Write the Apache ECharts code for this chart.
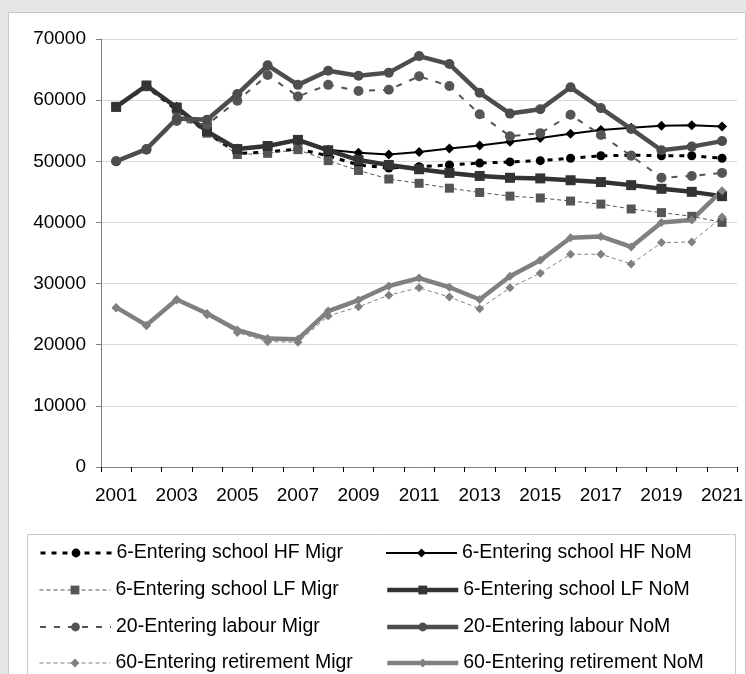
<!DOCTYPE html>
<html>
<head>
<meta charset="utf-8">
<script src="https://cdn.jsdelivr.net/npm/echarts@6/dist/echarts.min.js"></script>
<style>
html,body{margin:0;padding:0;background:#e6e6e6;}
#c{width:746px;height:674px;}
</style>
</head>
<body>
<div id="c"></div>
<script>
const years = ['2001','2002','2003','2004','2005','2006','2007','2008','2009','2010','2011','2012','2013','2014','2015','2016','2017','2018','2019','2020','2021'];
const yTicks = [0,10000,20000,30000,40000,50000,60000,70000];

const hfMigr   = [58900,62200,58400,54700,51300,51500,52000,50900,49400,48900,49100,49400,49700,49900,50100,50500,50900,51000,50900,50900,50500];
const hfNoM    = [58900,62400,58900,55000,52100,52500,53500,51900,51400,51100,51500,52100,52600,53200,53800,54500,55100,55500,55800,55900,55700];
const lfMigr   = [58900,62200,58400,54600,51100,51300,51900,50100,48500,47100,46400,45600,44900,44300,44000,43500,43000,42200,41600,41000,40000];
const lfNoM    = [58900,62400,58800,54900,52000,52500,53500,51800,50200,49400,48700,48100,47600,47300,47200,46900,46600,46100,45500,45000,44300];
const labMigr  = [50000,51900,56600,56000,59900,64100,60600,62500,61500,61700,63900,62300,57700,54100,54600,57600,54300,50900,47300,47600,48100];
const labNoM   = [50000,52000,57000,56800,61000,65700,62500,64800,64000,64500,67200,65900,61200,57800,58500,62100,58700,55300,51800,52400,53300];
const retMigr  = [26000,23100,27300,24900,22000,20500,20400,24700,26200,28100,29300,27800,25900,29300,31700,34800,34800,33200,36700,36800,40900];
const retNoM   = [26100,23200,27400,25100,22400,21000,20900,25500,27300,29600,30900,29400,27400,31200,33800,37500,37700,36000,40000,40400,45200];

const names = {
  hfMigr:'6-Entering school HF Migr', hfNoM:'6-Entering school HF NoM',
  lfMigr:'6-Entering school LF Migr', lfNoM:'6-Entering school LF NoM',
  labMigr:'20-Entering labour Migr', labNoM:'20-Entering labour NoM',
  retMigr:'60-Entering retirement Migr', retNoM:'60-Entering retirement NoM'
};

function ser(name, data, color, width, dash, symbol, size){
  return {
    name: name, type: 'line', data: data,
    symbol: symbol, symbolSize: size, showSymbol: true,
    lineStyle: {color: color, width: width, type: dash, cap: 'butt'},
    itemStyle: {color: color, borderWidth: 0},
    emphasis: {disabled: true},
    animation: false
  };
}

const font = 'Liberation Sans, Arial, sans-serif';
const series = [
  ser(names.hfMigr, hfMigr, '#000000', 3, [5,6], 'circle', 9),
  ser(names.hfNoM, hfNoM, '#000000', 2, 'solid', 'diamond', 10),
  ser(names.lfMigr, lfMigr, '#555555', 1, [4,3], 'rect', 9),
  ser(names.lfNoM, lfNoM, '#333333', 4.5, 'solid', 'rect', 10),
  ser(names.labMigr, labMigr, '#555555', 2, [6,8], 'circle', 10),
  ser(names.labNoM, labNoM, '#4d4d4d', 4.5, 'solid', 'circle', 10),
  ser(names.retMigr, retMigr, '#808080', 1, [4,3], 'diamond', 9),
  ser(names.retNoM, retNoM, '#808080', 4.5, 'solid', 'diamond', 9)
];
const legendRows = [553, 590, 627, 663];
const col1 = [names.hfMigr, names.lfMigr, names.labMigr, names.retMigr];
const col2 = [names.hfNoM, names.lfNoM, names.labNoM, names.retNoM];
const legends = [];
function addLegend(name, left, cy){
  const s = series.find(x => x.name === name);
  legends.push({
    orient: 'horizontal', left: left, top: cy - 10, padding: 0,
    itemWidth: 71, itemHeight: 11, itemGap: 0,
    data: [name],
    lineStyle: {width: s.lineStyle.width},
    textStyle: {fontSize: 19.5, lineHeight: 20, color: '#000', fontFamily: font},
    selectedMode: false
  });
}
col1.forEach((n, i) => addLegend(n, 39, legendRows[i]));
col2.forEach((n, i) => addLegend(n, 385, legendRows[i]));

const chart = echarts.init(document.getElementById('c'));
chart.setOption({
  backgroundColor: '#e6e6e6',
  animation: false,
  graphic: [
    {type:'rect', z:-10, shape:{x:8.5,y:12.5,width:737,height:700}, style:{fill:'#ffffff', stroke:'#c8c8c8', lineWidth:1}},
    {type:'rect', z:-9, shape:{x:27.5,y:534.5,width:708,height:200}, style:{fill:'none', stroke:'#c8c8c8', lineWidth:1}}
  ],
  grid: {left: 101, right: 1, top: 39, bottom: 207, containLabel: false},
  xAxis: {
    type: 'category', data: years, boundaryGap: true,
    axisLine: {lineStyle: {color: '#808080', width: 1}},
    axisTick: {show: true, length: 5, inside: false, alignWithLabel: false, interval: 0, lineStyle: {color: '#000'}},
    axisLabel: {interval: 1, color: '#000', fontSize: 19, fontFamily: font, margin: 19},
    splitLine: {show: false}
  },
  yAxis: {
    type: 'value', min: yTicks[0], max: yTicks[yTicks.length-1], interval: yTicks[1] - yTicks[0],
    axisLine: {show: true, lineStyle: {color: '#808080', width: 1}},
    axisTick: {show: true, length: 5, lineStyle: {color: '#808080'}},
    axisLabel: {color: '#000', fontSize: 19, fontFamily: font, margin: 15, formatter: v => String(v)},
    splitLine: {show: true, lineStyle: {color: '#d9d9d9', width: 1}}
  },
  legend: legends,
  series: series
});
</script>
</body>
</html>
